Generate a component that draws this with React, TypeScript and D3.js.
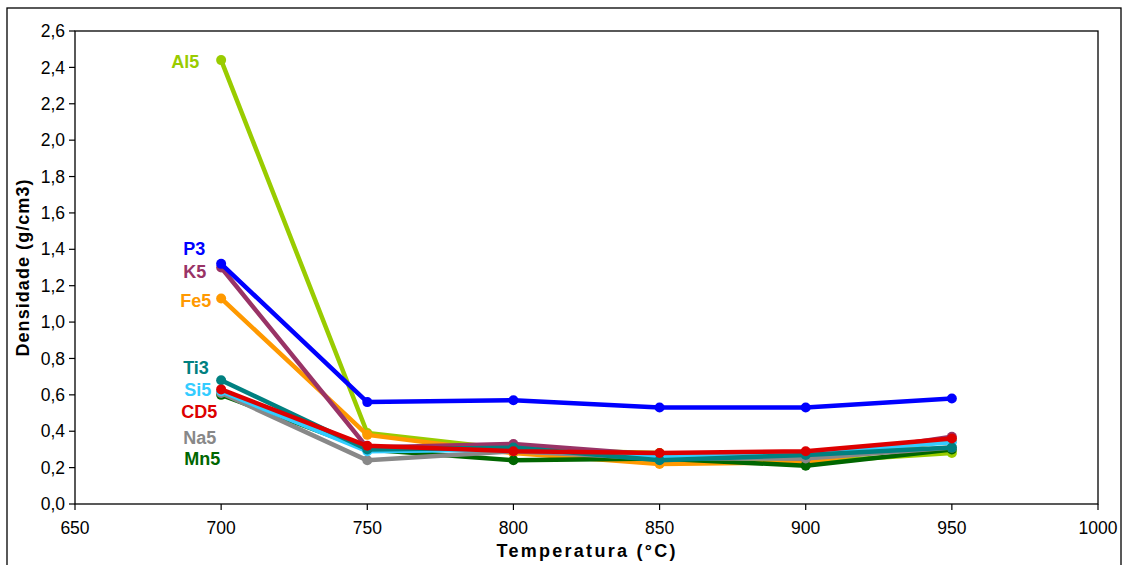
import React from "react";
import * as d3 from "d3";

const temperatures = [700, 750, 800, 850, 900, 950];
const xTicks = [650, 700, 750, 800, 850, 900, 950, 1000];
const yTicks = [0, 0.2, 0.4, 0.6, 0.8, 1.0, 1.2, 1.4, 1.6, 1.8, 2.0, 2.2, 2.4, 2.6];

const seriesNames = ["Al5", "Fe5", "K5", "P3", "Mn5", "Na5", "Si5", "Ti3", "CD5"];
const al5 = [2.44, 0.39, 0.30, 0.28, 0.23, 0.28];
const fe5 = [1.13, 0.38, 0.28, 0.22, 0.23, 0.35];
const k5 = [1.30, 0.31, 0.33, 0.27, 0.25, 0.37];
const p3 = [1.32, 0.56, 0.57, 0.53, 0.53, 0.58];
const mn5 = [0.60, 0.30, 0.24, 0.25, 0.21, 0.30];
const na5 = [0.61, 0.24, 0.29, 0.25, 0.25, 0.31];
const si5 = [0.62, 0.29, 0.30, 0.26, 0.28, 0.34];
const ti3 = [0.68, 0.30, 0.31, 0.24, 0.27, 0.31];
const cd5 = [0.63, 0.32, 0.29, 0.28, 0.29, 0.36];

const seriesValues: Record<string, number[]> = {
  Al5: al5, Fe5: fe5, K5: k5, P3: p3, Mn5: mn5, Na5: na5, Si5: si5, Ti3: ti3, CD5: cd5,
};

const colors: Record<string, string> = {
  Al5: "#99CC00",
  Fe5: "#FF9900",
  K5: "#993366",
  P3: "#0000FF",
  Mn5: "#006600",
  Na5: "#888888",
  Si5: "#33CCFF",
  Ti3: "#008080",
  CD5: "#DD0000",
};

// label offsets relative to the first point (layout only)
const labelOffsets: Record<string, [number, number]> = {
  Al5: [-50, 2],
  P3: [-38, -15],
  K5: [-38, 4],
  Fe5: [-41, 2],
  Ti3: [-38, -13],
  Si5: [-37, -2],
  CD5: [-40, 22],
  Na5: [-38, 45],
  Mn5: [-37, 64],
};

const W = 1126;
const H = 565;
const left = 75, right = 1098, top = 31, bottom = 504;
const font = "'Liberation Sans', Arial, sans-serif";

export default function App() {
  const x = d3.scaleLinear().domain([650, 1000]).range([left, right]);
  const y = d3.scaleLinear().domain([0, 2.6]).range([bottom, top]);
  const line = d3
    .line<[number, number]>()
    .x((d) => x(d[0]))
    .y((d) => y(d[1]));
  const fmt = (v: number) => v.toFixed(1).replace(".", ",");

  return (
    <svg
      width={W}
      height={H}
      style={{ position: "absolute", left: 0, top: 0, background: "#fff" }}
      fontFamily={font}
    >
      <rect x={7} y={8} width={1114} height={600} fill="#fff" stroke="#000" strokeWidth={1.3} />
      <rect x={left} y={top} width={right - left} height={bottom - top} fill="#fff" stroke="#000" strokeWidth={1.3} />
      {yTicks.map((t) => (
        <g key={"y" + t}>
          <line x1={left - 6} x2={left} y1={y(t)} y2={y(t)} stroke="#000" strokeWidth={1.2} />
          <text x={left - 10} y={y(t)} dy="0.35em" textAnchor="end" fontSize={17.5} fill="#000">
            {fmt(t)}
          </text>
        </g>
      ))}
      {xTicks.map((t) => (
        <g key={"x" + t}>
          <line x1={x(t)} x2={x(t)} y1={bottom} y2={bottom + 6} stroke="#000" strokeWidth={1.2} />
          <text x={x(t)} y={bottom + 30} textAnchor="middle" fontSize={17.5} fill="#000">
            {t}
          </text>
        </g>
      ))}
      <text
        x={586}
        y={557}
        textAnchor="middle"
        fontSize={18}
        fontWeight="bold"
        textLength={179}
        lengthAdjust="spacing"
      >
        Temperatura (°C)
      </text>
      <text
        transform={`translate(29, 268) rotate(-90)`}
        textAnchor="middle"
        fontSize={18}
        fontWeight="bold"
        textLength={177}
        lengthAdjust="spacing"
      >
        Densidade (g/cm3)
      </text>
      {seriesNames.map((name) => {
        const vals = seriesValues[name];
        const pts = temperatures.map((t, i) => [t, vals[i]] as [number, number]);
        return (
          <g key={name}>
            <path d={line(pts) || ""} fill="none" stroke={colors[name]} strokeWidth={4.5} strokeLinejoin="round" />
            {pts.map((p, i) => (
              <circle key={i} cx={x(p[0])} cy={y(p[1])} r={5} fill={colors[name]} />
            ))}
          </g>
        );
      })}
      {seriesNames.map((name) => {
        const vals = seriesValues[name];
        const [dx, dy] = labelOffsets[name];
        return (
          <text
            key={"l" + name}
            x={x(temperatures[0]) + dx}
            y={y(vals[0]) + dy}
            dy="0.35em"
            fontSize={18}
            fontWeight="bold"
            fill={colors[name]}
          >
            {name}
          </text>
        );
      })}
    </svg>
  );
}
